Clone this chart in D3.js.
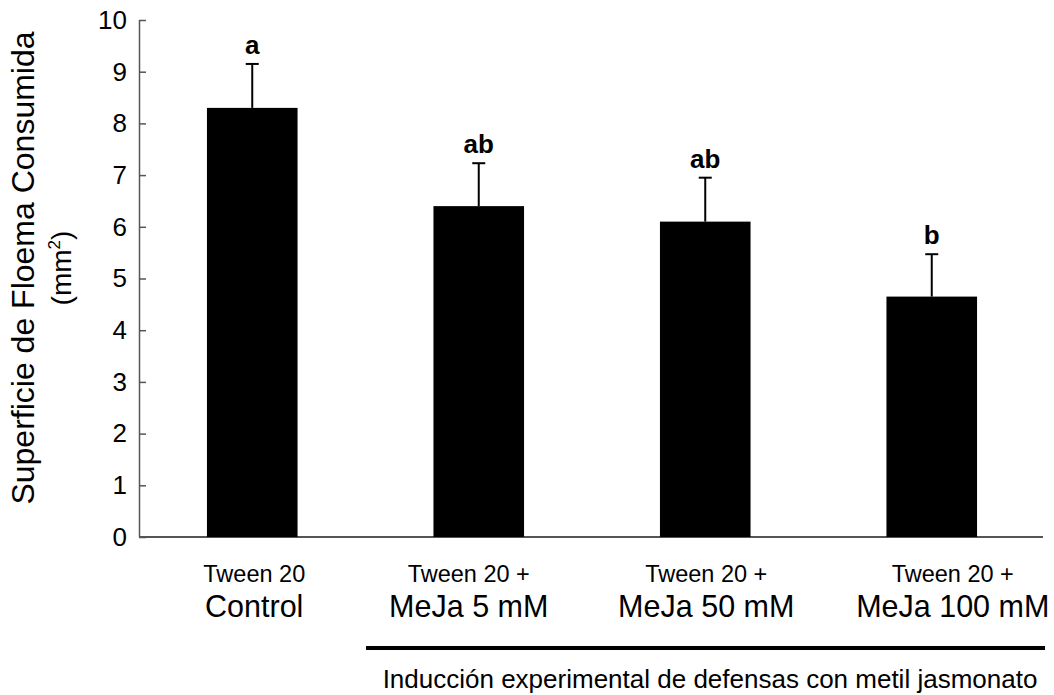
<!DOCTYPE html>
<html>
<head>
<meta charset="utf-8">
<script src="https://cdn.jsdelivr.net/npm/d3@7"></script>
<style>
  html, body { margin: 0; padding: 0; background: #fff; }
  svg { display: block; font-family: "Liberation Sans", Arial, sans-serif; }
</style>
</head>
<body>
<svg id="chart" width="1054" height="695"></svg>
<script>
const categories = ["Control", "MeJa 5 mM", "MeJa 50 mM", "MeJa 100 mM"];
const topLabels = ["Tween 20", "Tween 20 +", "Tween 20 +", "Tween 20 +"];
const means = [8.30, 6.40, 6.10, 4.65];
const errors = [0.85, 0.83, 0.85, 0.82];
const letters = ["a", "ab", "ab", "b"];
const yTicks = [0, 1, 2, 3, 4, 5, 6, 7, 8, 9, 10];
const yTitle = "Superficie de Floema Consumida";
const groupTitle = "Inducción experimental de defensas con metil jasmonato";

const svg = d3.select("#chart");
const mLeft = 139, mRight = 1045, mTop = 20, mBottom = 537;

const x = d3.scaleBand().domain(categories).range([mLeft, mRight])
  .paddingInner(0.6).paddingOuter(0.3);
const y = d3.scaleLinear().domain([0, 10]).range([mBottom, mTop]);

// y axis
const yAxis = svg.append("g").attr("transform", `translate(${mLeft},0)`)
  .call(d3.axisRight(y).tickValues(yTicks).tickSize(7).tickFormat(d3.format("d")));
yAxis.select(".domain").attr("stroke", "#555").attr("stroke-width", 1.5)
  .attr("d", `M0.5,${mTop}V${mBottom}`);
yAxis.selectAll(".tick line").attr("stroke", "#555").attr("stroke-width", 1.5);
yAxis.selectAll(".tick text").attr("x", -12).attr("text-anchor", "end")
  .attr("font-size", 26).attr("fill", "#000").attr("font-family", "Liberation Sans, Arial, sans-serif");

// x axis line
svg.append("line").attr("x1", mLeft).attr("x2", 1043).attr("y1", y(0)).attr("y2", y(0))
  .attr("stroke", "#555").attr("stroke-width", 2);

// bars
svg.selectAll("rect.bar").data(categories).join("rect").attr("class", "bar")
  .attr("x", d => x(d)).attr("width", x.bandwidth())
  .attr("y", (d, i) => y(means[i])).attr("height", (d, i) => y(0) - y(means[i]))
  .attr("fill", "#000");

// error bars, significance letters, category labels
const capW = 13;
const labelNudge = [2, -10, 1, 21]; // layout: category text boxes are not exactly centred in the original
categories.forEach((c, i) => {
  const cx = x(c) + x.bandwidth() / 2;
  const yt = y(means[i] + errors[i]);
  svg.append("line").attr("x1", cx).attr("x2", cx).attr("y1", y(means[i])).attr("y2", yt)
    .attr("stroke", "#000").attr("stroke-width", 2);
  svg.append("line").attr("x1", cx - capW / 2).attr("x2", cx + capW / 2).attr("y1", yt).attr("y2", yt)
    .attr("stroke", "#000").attr("stroke-width", 2);
  svg.append("text").attr("x", cx).attr("y", yt - 10).attr("text-anchor", "middle")
    .attr("font-size", 26).attr("font-weight", "bold").text(letters[i]);
  const lx = cx + labelNudge[i];
  svg.append("text").attr("x", lx).attr("y", 582).attr("text-anchor", "middle")
    .attr("font-size", 23.5).text(topLabels[i]);
  svg.append("text").attr("x", lx).attr("y", 617).attr("text-anchor", "middle")
    .attr("font-size", 30.5).text(c);
});

// grouping line + text
svg.append("line").attr("x1", 366).attr("x2", 1045).attr("y1", 648).attr("y2", 648)
  .attr("stroke", "#000").attr("stroke-width", 4);
svg.append("text").attr("x", 710).attr("y", 688).attr("text-anchor", "middle")
  .attr("font-size", 26).text(groupTitle);

// y title
const ytl = svg.append("text").attr("transform", "translate(0,268) rotate(-90)")
  .attr("text-anchor", "middle");
ytl.append("tspan").attr("x", 0).attr("y", 34).attr("font-size", 32).text(yTitle);
const t2 = ytl.append("tspan").attr("x", 0).attr("y", 71).attr("font-size", 28);
t2.append("tspan").text("(mm");
t2.append("tspan").attr("font-size", 17).attr("dy", -11).text("2");
t2.append("tspan").attr("dy", 11).text(")");
</script>
</body>
</html>
